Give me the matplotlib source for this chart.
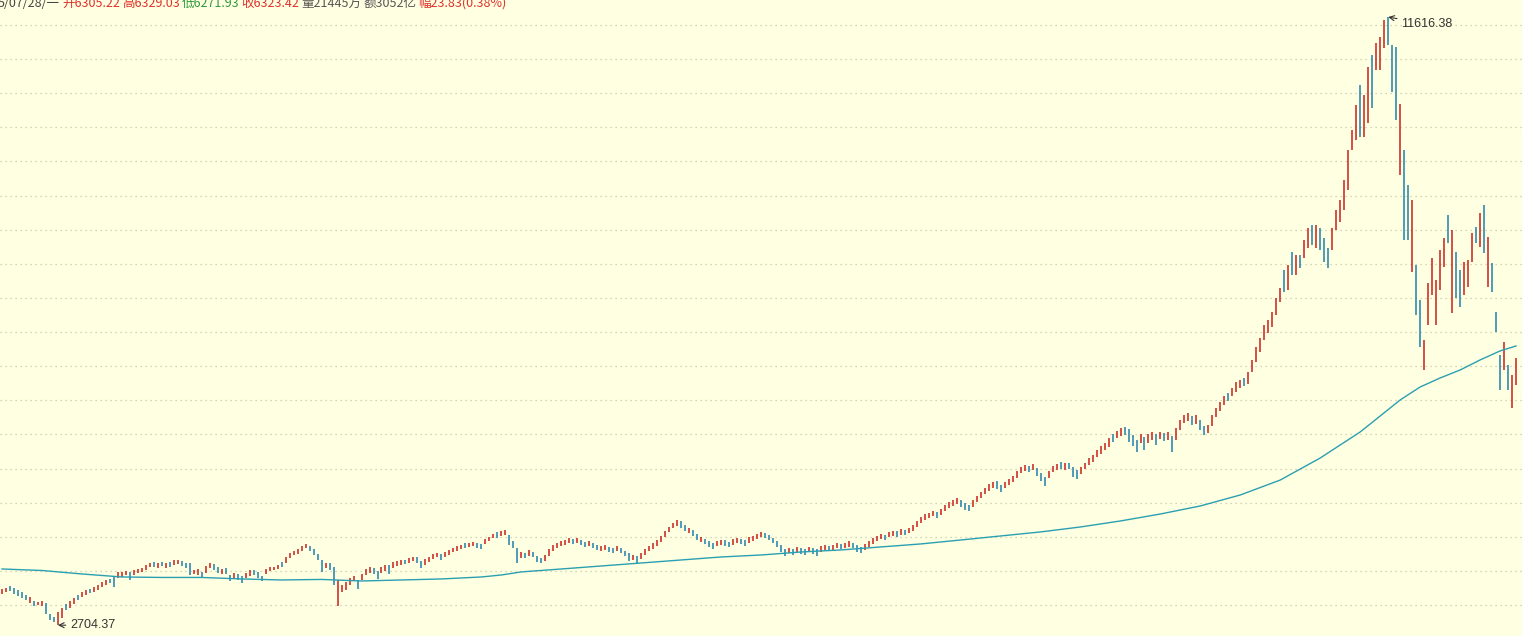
import numpy as np
import matplotlib
matplotlib.use('Agg')
import matplotlib.pyplot as plt

# ── data ──────────────────────────────────────────────────────────────────────
highs = [
    3235, 3250, 3279, 3250, 3221, 3191, 3147, 3118, 3060, 3045,
    3060, 3030, 2869, 2825, 2898, 2957, 3016, 3060, 3104, 3147,
    3191, 3221, 3235, 3265, 3294, 3338, 3367, 3382, 3411, 3484,
    3484, 3499, 3484, 3514, 3528, 3543, 3587, 3616, 3631, 3616,
    3631, 3616, 3631, 3660, 3660, 3646, 3616, 3616, 3514, 3528,
    3484, 3572, 3616, 3602, 3558, 3528, 3543, 3440, 3470, 3455,
    3426, 3470, 3514, 3514, 3484, 3426, 3528, 3558, 3558, 3587,
    3631, 3704, 3763, 3792, 3821, 3865, 3895, 3865, 3821, 3748,
    3660, 3616, 3616, 3558, 3367, 3294, 3338, 3397, 3426, 3367,
    3455, 3528, 3558, 3543, 3499, 3558, 3587, 3587, 3631, 3646,
    3660, 3660, 3690, 3704, 3704, 3646, 3675, 3704, 3748, 3763,
    3748, 3777, 3807, 3836, 3865, 3880, 3909, 3909, 3924, 3909,
    3895, 3968, 3997, 4041, 4070, 4085, 4100, 4027, 3939, 3836,
    3777, 3763, 3807, 3777, 3719, 3690, 3733, 3821, 3880, 3909,
    3939, 3953, 3983, 3968, 3983, 3953, 3924, 3939, 3909, 3880,
    3865, 3880, 3851, 3836, 3865, 3836, 3792, 3763, 3733, 3719,
    3763, 3821, 3865, 3909, 3953, 4012, 4085, 4144, 4202, 4246,
    4231, 4173, 4129, 4100, 4041, 3997, 3968, 3939, 3909, 3939,
    3953, 3953, 3924, 3968, 3983, 3968, 3953, 3997, 4012, 4041,
    4070, 4056, 4027, 3983, 3939, 3880, 3821, 3836, 3821, 3851,
    3836, 3821, 3851, 3836, 3821, 3865, 3880, 3865, 3880, 3909,
    3895, 3909, 3939, 3909, 3880, 3851, 3895, 3939, 3983, 4012,
    4041, 4027, 4070, 4085, 4085, 4114, 4100, 4129, 4173, 4231,
    4290, 4334, 4349, 4378, 4363, 4407, 4466, 4510, 4539, 4569,
    4539, 4495, 4466, 4539, 4598, 4657, 4715, 4774, 4803, 4818,
    4759, 4803, 4847, 4891, 4964, 5023, 5052, 5037, 5067, 5008,
    4935, 4876, 4964, 5037, 5067, 5096, 5081, 5081, 5023, 4979,
    5023, 5081, 5155, 5199, 5272, 5331, 5374, 5448, 5506, 5550,
    5594, 5609, 5580, 5492, 5419, 5506, 5462, 5506, 5536, 5506,
    5536, 5521, 5536, 5477, 5594, 5712, 5785, 5814, 5770, 5785,
    5712, 5624, 5638, 5785, 5888, 5976, 6063, 6107, 6181, 6269,
    6298, 6327, 6415, 6591, 6781, 6913, 7104, 7177, 7294, 7499,
    7646, 7910, 7983, 8173, 8130, 8130, 8349, 8525, 8569, 8569,
    8525, 8379, 8232, 8525, 8789, 8936, 9229, 9668, 9961, 10328,
    10621, 10474, 10884, 11060, 11236, 11324, 11573, 11616.38, 11207, 11177,
    10342, 9668, 9156, 8936, 7983, 7470, 6884, 7719, 8085, 7763,
    8203, 8379, 8716, 8496, 8173, 7910, 8027, 8056, 8452, 8540,
    8745, 8862, 8393, 8012, 7294, 6664, 6855, 6518, 6371, 6620,
]
lows = [
    3162, 3191, 3206, 3162, 3133, 3104, 3074, 3030, 2986, 3001,
    2986, 2869, 2781, 2752, 2704.37, 2811, 2928, 2957, 3016, 3074,
    3118, 3147, 3177, 3191, 3221, 3265, 3294, 3323, 3265, 3397,
    3411, 3440, 3367, 3440, 3470, 3484, 3514, 3558, 3558, 3543,
    3572, 3543, 3558, 3587, 3602, 3572, 3543, 3440, 3455, 3440,
    3411, 3470, 3543, 3514, 3470, 3455, 3455, 3353, 3397, 3367,
    3323, 3397, 3426, 3440, 3397, 3353, 3455, 3499, 3514, 3528,
    3558, 3616, 3690, 3733, 3748, 3792, 3836, 3792, 3733, 3660,
    3484, 3543, 3514, 3294, 2986, 3191, 3221, 3294, 3353, 3235,
    3367, 3440, 3470, 3455, 3382, 3470, 3499, 3455, 3543, 3572,
    3587, 3602, 3616, 3646, 3616, 3543, 3587, 3631, 3675, 3704,
    3660, 3704, 3733, 3777, 3792, 3821, 3836, 3851, 3865, 3836,
    3821, 3895, 3939, 3983, 3983, 4012, 4027, 3880, 3836, 3616,
    3690, 3690, 3719, 3704, 3631, 3616, 3646, 3719, 3792, 3836,
    3865, 3880, 3909, 3895, 3909, 3880, 3851, 3865, 3836, 3807,
    3792, 3807, 3777, 3763, 3792, 3763, 3719, 3646, 3660, 3616,
    3675, 3733, 3792, 3821, 3865, 3924, 3997, 4070, 4129, 4158,
    4129, 4085, 4056, 4012, 3953, 3924, 3895, 3851, 3821, 3865,
    3880, 3865, 3851, 3880, 3909, 3895, 3865, 3909, 3939, 3968,
    3997, 3983, 3953, 3909, 3851, 3777, 3719, 3763, 3733, 3777,
    3748, 3733, 3777, 3748, 3719, 3777, 3807, 3792, 3807, 3836,
    3821, 3836, 3851, 3836, 3777, 3763, 3807, 3851, 3895, 3939,
    3968, 3953, 3997, 4012, 3997, 4027, 4027, 4056, 4085, 4144,
    4202, 4246, 4275, 4305, 4275, 4319, 4378, 4422, 4451, 4481,
    4437, 4393, 4378, 4437, 4510, 4569, 4627, 4671, 4715, 4701,
    4657, 4715, 4759, 4803, 4862, 4935, 4964, 4950, 4979, 4891,
    4818, 4745, 4862, 4950, 4979, 4994, 4979, 4994, 4876, 4847,
    4920, 4994, 5052, 5096, 5169, 5213, 5272, 5316, 5389, 5448,
    5477, 5492, 5389, 5331, 5243, 5374, 5272, 5374, 5419, 5345,
    5433, 5404, 5419, 5243, 5419, 5565, 5668, 5697, 5638, 5653,
    5565, 5492, 5521, 5624, 5756, 5844, 5932, 5990, 6063, 6122,
    6181, 6210, 6239, 6415, 6561, 6708, 6884, 6987, 7074, 7250,
    7441, 7587, 7617, 7837, 7837, 7939, 8085, 8232, 8276, 8232,
    8203, 8027, 7939, 8203, 8496, 8613, 8789, 9082, 9668, 9815,
    9858, 9858, 10064, 10284, 10841, 10841, 11163, 11207, 10518, 10108,
    9302, 8349, 8349, 7880, 7250, 6781, 6444, 7104, 7543, 7104,
    7617, 7954, 8305, 7279, 7499, 7367, 7543, 7661, 8027, 8305,
    8247, 8159, 7661, 7587, 7001, 6151, 6444, 6151, 5888, 6225,
]
# r = up day (red), b = down day (blue)
updown = (
    "rrbbbbbrbr" "rbbbrrbrrb" "rrbrrrrbbr" "rrbrrrrrbr" "brbrrbbbrr"
    "brrbbrbbrb" "brrbbbrrrr" "brrrrrrbbb" "brbbrrrrrb" "rrrbbrrbrr"
    "rbrrbbrrrr" "brrrrrbrrb" "brrrbrrbbb" "rbrbbbrrrr" "rrrbrbbrbb"
    "rrbbrbbbrb" "rrrrrrrrrr" "bbrbbrbbbr" "rbbrrbbrrr" "rbbbbbbrbr"
    "bbrbbrrbrr" "brrbbbrrrr" "rbrrbrbrrr" "rrrrbrrrrr" "bbbrrrrrrb"
    "brrrrrrbrb" "bbrrrbrbbb" "rrrrrrrrbr" "rbbbbrbrrb" "rbrbrrrrbr"
    "bbrrrrrbrr" "rbrrrrrrrr" "rbrbrbrrbr" "bbbrrrrrrr" "brrbrrrbbb"
    "rbbrbbrrrr" "rrbrbbrrrb" "rbrbbbrbrr"
)

# long moving average, sampled at candle indices
ma_idx = [0, 10, 20, 30, 40, 50, 60, 70, 80, 90, 100, 110, 120, 125, 130,
          140, 150, 160, 170, 180, 190, 200, 210, 220, 230, 240, 250, 260,
          270, 280, 290, 300, 310, 320, 330, 340, 345, 350, 355, 360, 365,
          370, 375, 379]
ma_vals = [3528, 3506, 3455, 3411, 3404, 3404, 3382, 3367, 3375, 3352, 3367,
           3382, 3411, 3440, 3485, 3528, 3572, 3616, 3660, 3704, 3733, 3777,
           3807, 3851, 3895, 3953, 4012, 4071, 4144, 4232, 4334, 4452, 4613,
           4832, 5155, 5536, 5770, 6005, 6195, 6327, 6444, 6591, 6723, 6796]

grid_levels = list(range(3000, 12000, 500))

header_parts = ["5/07/28/一", "开6305.22", "高6329.03", "低6271.93", "收6323.42",
                "量21445万", "额3052亿", "幅23.83(0.38%)"]
header_colors = ['#444444', '#e0302a', '#e0302a', '#2f9a3a', '#e0302a',
                 '#555555', '#555555', '#e0302a']

# ── style ─────────────────────────────────────────────────────────────────────
BG    = '#ffffe1'
RED   = '#c8201e'
BLUE  = '#1f80ac'
TEAL  = '#2a9fb2'
GRID  = '#c9c5aa'
CJK   = ['Noto Sans CJK SC', 'DejaVu Sans']

fig = plt.figure(figsize=(15.22, 6.36), dpi=100)
fig.patch.set_facecolor(BG)
ax = fig.add_axes([0, 0, 1, 1])
ax.set_facecolor(BG)

for lv in grid_levels:
    ax.axhline(lv, color=GRID, lw=0.9, ls=(0, (1, 3)), zorder=0)

x = np.arange(len(highs))
cols = [RED if c == 'r' else BLUE for c in updown]
ax.vlines(x, lows, highs, colors=cols, linewidth=1.1, zorder=2)
ax.plot(ma_idx, ma_vals, color=TEAL, lw=1.0, zorder=3)

ax.set_xlim(-0.5, len(highs) + 0.5)
ax.set_ylim(2546, 11866)
ax.set_xticks([])
ax.set_yticks([])
for s in ax.spines.values():
    s.set_visible(False)

# high / low markers
hi_i = int(np.argmax(highs))
lo_i = int(np.argmin(lows))
ax.annotate(f'{highs[hi_i]:.2f}', xy=(hi_i, highs[hi_i]), xytext=(13, -7),
            textcoords='offset pixels', ha='left', va='center', fontsize=9,
            family='Liberation Sans', color='#333333',
            arrowprops=dict(arrowstyle='->', color='#333333', lw=0.8,
                            shrinkA=1, shrinkB=0))
ax.annotate(f'{lows[lo_i]:.2f}', xy=(lo_i, lows[lo_i]), xytext=(12, 0),
            textcoords='offset pixels', ha='left', va='center', fontsize=9,
            family='Liberation Sans', color='#333333',
            arrowprops=dict(arrowstyle='->', color='#333333', lw=0.8,
                            shrinkA=1, shrinkB=0))

# header line, clipped at the top edge as in the reference
renderer = fig.canvas.get_renderer()
W = fig.get_figwidth() * fig.dpi
xpos = -2
for txt, col in zip(header_parts, header_colors):
    t = fig.text(xpos / W, 1 - 7 / 636, txt, color=col, fontsize=9,
                 family=CJK, va='baseline', ha='left')
    xpos = t.get_window_extent(renderer).x1 + 2

fig.savefig('out.png', dpi=100, facecolor=BG)
